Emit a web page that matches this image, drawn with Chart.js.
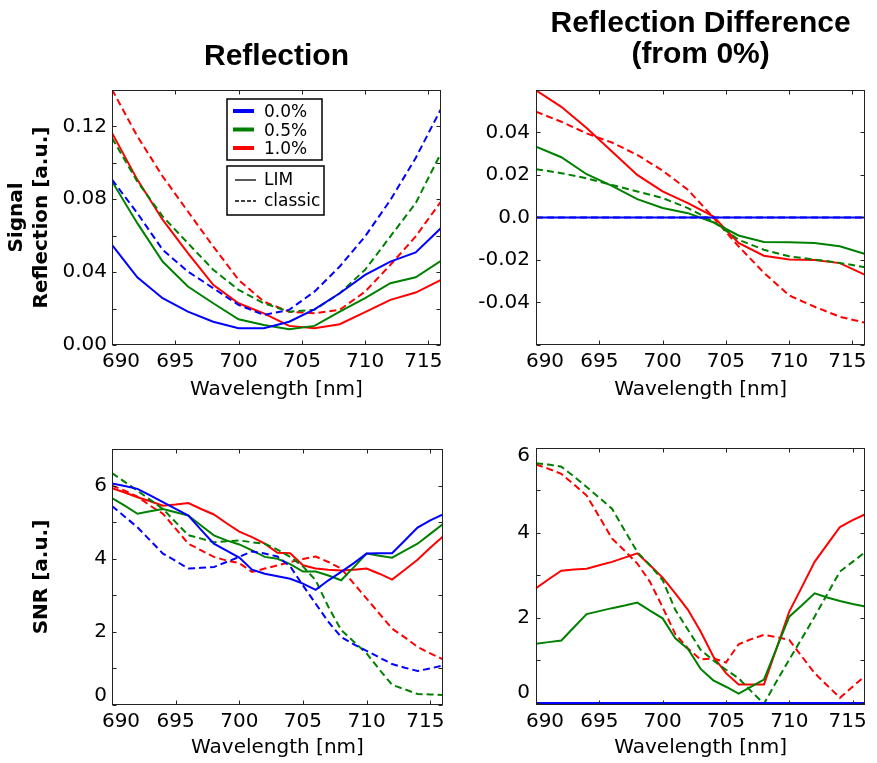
<!DOCTYPE html>
<html>
<head>
<meta charset="utf-8">
<script src="https://cdn.jsdelivr.net/npm/chart.js@4.4.1/dist/chart.umd.min.js"></script>
<style>
  body { margin: 0; background: #fff; width: 877px; height: 763px; position: relative; overflow: hidden; }
  canvas { position: absolute; }
</style>
</head>
<body>
<canvas id="reflection" width="460" height="410" style="left:0;top:0"></canvas>
<canvas id="reflectionDiff" width="417" height="410" style="left:460px;top:0"></canvas>
<canvas id="snr" width="460" height="353" style="left:0;top:410px"></canvas>
<canvas id="snrDiff" width="417" height="353" style="left:460px;top:410px"></canvas>
<script>
// wavelength grids [nm]
var wavelengthsCoarse = [690, 692, 694, 696, 698, 700, 702, 704, 706, 708, 710, 712, 714, 716];
var wavelengths = [690, 691, 692, 693, 694, 695, 696, 697, 698, 699, 700, 701, 702, 703,
    704, 705, 706, 707, 708, 709, 710, 711, 712, 713, 714, 715, 716];
var xTickValues = [690, 695, 700, 705, 710, 715];

var concentrationLabels = ["0.0%", "0.5%", "1.0%"];
var methodLabels = ["LIM", "classic"];
var seriesColors = ["#0000ff", "#008000", "#ff0000"];

// signal reflection [a.u.]
var reflLim0 = [0.0550, 0.0372, 0.0257, 0.0183, 0.0128, 0.0092, 0.0092, 0.0128, 0.0196, 0.0284, 0.0385, 0.0458, 0.0508, 0.0642];
var reflLim05 = [0.0898, 0.0669, 0.0458, 0.0321, 0.0229, 0.0141, 0.0110, 0.0086, 0.0105, 0.0183, 0.0257, 0.0339, 0.0372, 0.0462];
var reflLim10 = [0.1164, 0.0908, 0.0688, 0.0504, 0.0330, 0.0229, 0.0174, 0.0105, 0.0092, 0.0114, 0.0180, 0.0248, 0.0288, 0.0358];
var reflClassic0 = [0.0908, 0.0724, 0.0523, 0.0403, 0.0312, 0.0220, 0.0165, 0.0193, 0.0293, 0.0431, 0.0596, 0.0796, 0.1027, 0.1296];
var reflClassic05 = [0.1137, 0.0898, 0.0706, 0.0559, 0.0413, 0.0303, 0.0229, 0.0183, 0.0193, 0.0284, 0.0413, 0.0596, 0.0779, 0.1054];
var reflClassic10 = [0.1403, 0.1146, 0.0926, 0.0733, 0.0541, 0.0358, 0.0238, 0.0183, 0.0174, 0.0193, 0.0293, 0.0440, 0.0596, 0.0788];
var reflTicks = [0, 0.02, 0.04, 0.06, 0.08, 0.10, 0.12, 0.14];
var reflTickLabels = ["0.00", "", "0.04", "", "0.08", "", "0.12", ""];

// reflection difference (from 0%)
var diffLim0 = [0, 0, 0, 0, 0, 0, 0, 0, 0, 0, 0, 0, 0, 0];
var diffLim05 = [0.0333, 0.0283, 0.0203, 0.0148, 0.0086, 0.0044, 0.0020, -0.0023, -0.0085, -0.0116, -0.0117, -0.0120, -0.0136, -0.0172];
var diffLim10 = [0.0598, 0.0520, 0.0420, 0.0310, 0.0200, 0.0122, 0.0067, 0.0005, -0.0120, -0.0180, -0.0198, -0.0200, -0.0215, -0.0270];
var diffClassic0 = [0, 0, 0, 0, 0, 0, 0, 0, 0, 0, 0, 0, 0, 0];
var diffClassic05 = [0.0227, 0.0208, 0.0184, 0.0153, 0.0122, 0.0091, 0.0044, -0.0019, -0.0105, -0.0152, -0.0183, -0.0198, -0.0214, -0.0234];
var diffClassic10 = [0.0497, 0.0450, 0.0395, 0.0352, 0.0294, 0.0220, 0.0130, 0.0000, -0.0136, -0.0260, -0.0367, -0.0420, -0.0467, -0.0495];
var diffTicks = [-0.06, -0.04, -0.02, 0, 0.02, 0.04, 0.06];
var diffTickLabels = ["", "-0.04", "-0.02", "0.0", "0.02", "0.04", ""];

// SNR [a.u.]
var snrLim0 = [6.06, 5.99, 5.91, 5.73, 5.55, 5.36, 5.18, 4.79, 4.41, 4.22, 4.03, 3.70, 3.59, 3.52,
    3.45, 3.32, 3.15, 3.41, 3.64, 3.88, 4.14, 4.15, 4.15, 4.50, 4.85, 5.05, 5.21];
var snrLim05 = [5.66, 5.45, 5.23, 5.30, 5.36, 5.27, 5.18, 4.91, 4.64, 4.50, 4.39, 4.23, 4.05, 4.00,
    3.85, 3.65, 3.65, 3.54, 3.41, 3.77, 4.14, 4.08, 4.03, 4.22, 4.41, 4.68, 4.95];
var snrLim10 = [5.93, 5.81, 5.68, 5.57, 5.45, 5.48, 5.52, 5.36, 5.21, 4.97, 4.74, 4.59, 4.41, 4.16,
    4.15, 3.82, 3.73, 3.70, 3.68, 3.70, 3.73, 3.59, 3.43, 3.70, 3.97, 4.30, 4.61];
var snrClassic0 = [5.44, 5.15, 4.86, 4.50, 4.14, 3.94, 3.73, 3.75, 3.77, 3.91, 4.05, 4.20, 4.14, 4.06,
    3.79, 3.27, 2.77, 2.27, 1.86, 1.66, 1.48, 1.30, 1.12, 1.02, 0.93, 1.00, 1.08];
var snrClassic05 = [6.34, 6.10, 5.86, 5.61, 5.36, 5.00, 4.64, 4.55, 4.45, 4.48, 4.50, 4.45, 4.41, 4.25,
    4.05, 3.79, 3.41, 2.68, 2.05, 1.73, 1.41, 0.97, 0.55, 0.43, 0.30, 0.29, 0.27];
var snrClassic10 = [6.00, 5.86, 5.70, 5.45, 5.23, 4.82, 4.41, 4.23, 4.05, 3.95, 3.88, 3.64, 3.73, 3.82,
    3.91, 3.99, 4.06, 3.91, 3.73, 3.32, 2.91, 2.50, 2.09, 1.85, 1.59, 1.41, 1.25];
var snrTicks = [0, 1, 2, 3, 4, 5, 6, 7];
var snrTickLabels = ["0", "", "2", "", "4", "", "6", ""];

// SNR difference
var snrDiffLim0 = [0, 0, 0, 0, 0, 0, 0, 0, 0, 0, 0, 0, 0, 0, 0, 0, 0, 0, 0, 0, 0, 0, 0, 0, 0, 0, 0];
var snrDiffLim05 = [1.39, 1.43, 1.47, 1.78, 2.09, 2.16, 2.23, 2.29, 2.36, 2.17, 1.99, 1.52, 1.27, 0.80,
    0.53, 0.38, 0.22, 0.38, 0.55, 1.29, 2.03, 2.30, 2.58, 2.48, 2.40, 2.33, 2.27];
var snrDiffLim10 = [2.70, 2.91, 3.11, 3.14, 3.16, 3.24, 3.32, 3.42, 3.52, 3.24, 2.95, 2.58, 2.19, 1.68,
    1.09, 0.70, 0.43, 0.43, 0.43, 1.29, 2.15, 2.73, 3.32, 3.73, 4.14, 4.30, 4.44];
var snrDiffClassic0 = [0, 0, 0, 0, 0, 0, 0, 0, 0, 0, 0, 0, 0, 0, 0, 0, 0, 0, 0, 0, 0, 0, 0, 0, 0, 0, 0];
var snrDiffClassic05 = [5.64, 5.61, 5.56, 5.33, 5.08, 4.83, 4.57, 4.06, 3.55, 3.24, 2.89, 2.19, 1.72, 1.25,
    1.00, 0.78, 0.58, 0.27, -0.02, 0.51, 1.02, 1.52, 2.03, 2.56, 3.09, 3.32, 3.55];
var snrDiffClassic10 = [5.61, 5.51, 5.39, 5.14, 4.88, 4.38, 3.87, 3.58, 3.28, 2.85, 2.25, 1.62, 1.28, 1.02,
    1.05, 0.95, 1.38, 1.50, 1.60, 1.55, 1.48, 1.09, 0.70, 0.41, 0.12, 0.38, 0.64];
var snrDiffTicks = [0, 1, 2, 3, 4, 5, 6];
var snrDiffTickLabels = ["0", "", "2", "", "4", "", "6"];

Chart.defaults.font.family = '"DejaVu Sans"';
Chart.defaults.font.size = 20;
Chart.defaults.color = "#000";

function series(xs, ys, color, dashed) {
    return {
        data: xs.map(function (x, i) { return { x: x, y: ys[i] }; }),
        borderColor: color,
        borderWidth: 2,
        borderDash: dashed ? [7, 4] : [],
        pointRadius: 0,
        fill: false,
        clip: 0
    };
}

function sixSeries(xs, lim, classic) {
    var sets = [];
    for (var i = 0; i < 3; i++) {
        sets.push(series(xs, lim[i], seriesColors[i], false));
        sets.push(series(xs, classic[i], seriesColors[i], true));
    }
    return sets;
}

// box around the plot with inward ticks on all four sides
var frameTicks = {
    id: "frameTicks",
    afterDatasetsDraw: function (chart) {
        var ctx = chart.ctx, a = chart.chartArea;
        var xs = chart.scales.x, ys = chart.scales.y;
        var l = Math.round(a.left) + 0.5, r = Math.round(a.right) - 0.5;
        var t = Math.round(a.top) + 0.5, b = Math.round(a.bottom) - 0.5;
        ctx.save();
        ctx.strokeStyle = "#222";
        ctx.lineWidth = 1;
        ctx.beginPath();
        xs.ticks.forEach(function (tk) {
            var px = Math.round(xs.getPixelForValue(tk.value)) + 0.5;
            ctx.moveTo(px, b); ctx.lineTo(px, b - 4);
            ctx.moveTo(px, t); ctx.lineTo(px, t + 4);
        });
        ys.ticks.forEach(function (tk) {
            var py = Math.round(ys.getPixelForValue(tk.value)) + 0.5;
            ctx.moveTo(l, py); ctx.lineTo(l + 4, py);
            ctx.moveTo(r, py); ctx.lineTo(r - 4, py);
        });
        ctx.stroke();
        ctx.strokeRect(l, t, r - l, b - t);
        ctx.restore();
    }
};

// edge tick labels sit a little inside the axes in the original
var labelNudge = {
    id: "labelNudge",
    beforeDraw: function (chart, args, opts) {
        ["x", "y"].forEach(function (id) {
            var shifts = opts[id] || {};
            chart.scales[id].getLabelItems().forEach(function (item) {
                var d = shifts[item.label];
                if (!d || item.nudged) return;
                item.options.translation[id === "x" ? 0 : 1] += d;
                item.nudged = true;
            });
        });
    }
};

// the two framed legends of the reflection panel
var legendBoxes = {
    id: "legendBoxes",
    afterDraw: function (chart) {
        var ctx = chart.ctx, a = chart.chartArea;
        var left = a.left + 115, top = a.top + 9;
        ctx.save();
        ctx.font = '17px "DejaVu Sans"';
        ctx.textBaseline = "middle";
        ctx.textAlign = "left";

        ctx.fillStyle = "#fff";
        ctx.fillRect(left, top, 95, 61);
        ctx.strokeStyle = "#000";
        ctx.lineWidth = 1.5;
        ctx.strokeRect(left, top, 95, 61);
        concentrationLabels.forEach(function (label, i) {
            var y = top + 12 + i * 18.5;
            ctx.strokeStyle = seriesColors[i];
            ctx.lineWidth = 4;
            ctx.beginPath();
            ctx.moveTo(left + 6, y); ctx.lineTo(left + 27, y);
            ctx.stroke();
            ctx.fillStyle = "#000";
            ctx.fillText(label, left + 37, y + 2);
        });

        var top2 = top + 67;
        ctx.fillStyle = "#fff";
        ctx.fillRect(left, top2, 97, 49);
        ctx.strokeStyle = "#000";
        ctx.lineWidth = 1.5;
        ctx.strokeRect(left, top2, 97, 49);
        methodLabels.forEach(function (label, i) {
            var y = top2 + 14 + i * 21;
            ctx.strokeStyle = "#000";
            ctx.lineWidth = 1.3;
            ctx.setLineDash(i === 0 ? [] : [4, 2]);
            ctx.beginPath();
            ctx.moveTo(left + 8, y); ctx.lineTo(left + 29, y);
            ctx.stroke();
            ctx.setLineDash([]);
            ctx.fillStyle = "#000";
            ctx.fillText(label, left + 37, y + 1);
        });
        ctx.restore();
    }
};

function makePanel(id, p) {
    var ctx = document.getElementById(id).getContext("2d");
    return new Chart(ctx, {
        type: "line",
        data: { datasets: p.datasets },
        options: {
            responsive: false,
            animation: false,
            devicePixelRatio: 1,
            layout: { padding: p.padding },
            plugins: {
                legend: { display: false },
                tooltip: { enabled: false },
                title: p.title || { display: false },
                labelNudge: { x: { "690": 9, "715": -5 }, y: p.yNudge || {} }
            },
            scales: {
                x: {
                    type: "linear",
                    min: 690,
                    max: 716,
                    grid: { display: false, drawTicks: false },
                    border: { display: false },
                    afterBuildTicks: function (scale) {
                        scale.ticks = xTickValues.map(function (v) { return { value: v }; });
                    },
                    afterFit: function (scale) { scale.height = p.xHeight; },
                    ticks: {
                        padding: 5,
                        autoSkip: false,
                        maxRotation: 0,
                        callback: function (v) { return String(v); }
                    },
                    title: {
                        display: true,
                        text: "Wavelength [nm]",
                        padding: { top: 0, bottom: p.xTitlePad }
                    }
                },
                y: {
                    type: "linear",
                    min: p.yMin,
                    max: p.yMax,
                    grid: { display: false, drawTicks: false },
                    border: { display: false },
                    afterBuildTicks: function (scale) {
                        scale.ticks = p.yTicks.map(function (v) { return { value: v }; });
                    },
                    afterFit: function (scale) { scale.width = p.yWidth; },
                    ticks: {
                        padding: p.yTickPad,
                        autoSkip: false,
                        callback: function (v, i) { return p.yLabels[i]; }
                    },
                    title: p.yTitle || { display: false }
                }
            }
        },
        plugins: [frameTicks, labelNudge].concat(p.plugins || [])
    });
}

window.onload = function () {
    makePanel("reflection", {
        datasets: sixSeries(wavelengthsCoarse,
            [reflLim0, reflLim05, reflLim10], [reflClassic0, reflClassic05, reflClassic10]),
        padding: { left: 0, right: 19, top: 0, bottom: 0 },
        title: {
            display: true, text: "Reflection", fullSize: false, color: "#000",
            font: { family: '"Liberation Sans"', size: 30, weight: "bold", lineHeight: 1 },
            padding: { top: 42, bottom: 18 }
        },
        xHeight: 65, xTitlePad: 8,
        yMin: 0, yMax: 0.14, yTicks: reflTicks, yLabels: reflTickLabels,
        yWidth: 112, yTickPad: 5,
        yTitle: {
            display: true, text: ["Signal", "Reflection [a.u.]"],
            font: { size: 20, weight: "bold", lineHeight: 1.25 },
            padding: { top: 4.5, bottom: 0 }
        },
        plugins: [legendBoxes]
    });

    makePanel("reflectionDiff", {
        datasets: sixSeries(wavelengthsCoarse,
            [diffLim0, diffLim05, diffLim10], [diffClassic0, diffClassic05, diffClassic10]),
        padding: { left: 0, right: 8, top: 0, bottom: 0 },
        title: {
            display: true, text: ["Reflection Difference", "(from 0%)"], fullSize: false, color: "#000",
            font: { family: '"Liberation Sans"', size: 30, weight: "bold", lineHeight: 1.03 },
            padding: { top: 8, bottom: 20 }
        },
        xHeight: 65, xTitlePad: 8,
        yMin: -0.06, yMax: 0.06, yTicks: diffTicks, yLabels: diffTickLabels,
        yWidth: 76, yTickPad: 6
    });

    makePanel("snr", {
        datasets: sixSeries(wavelengths,
            [snrLim0, snrLim05, snrLim10], [snrClassic0, snrClassic05, snrClassic10]),
        padding: { left: 0, right: 17, top: 39, bottom: 0 },
        xHeight: 58, xTitlePad: 3,
        yMin: 0, yMax: 7, yTicks: snrTicks, yLabels: snrTickLabels,
        yNudge: { "0": -9 },
        yWidth: 112, yTickPad: 5,
        yTitle: {
            display: true, text: "SNR [a.u.]",
            font: { size: 20, weight: "bold", lineHeight: 1.25 },
            padding: { top: 29.5, bottom: 0 }
        }
    });

    makePanel("snrDiff", {
        datasets: sixSeries(wavelengths,
            [snrDiffLim0, snrDiffLim05, snrDiffLim10], [snrDiffClassic0, snrDiffClassic05, snrDiffClassic10]),
        padding: { left: 0, right: 8, top: 38, bottom: 0 },
        xHeight: 58, xTitlePad: 3,
        yMin: -0.05, yMax: 6, yTicks: snrDiffTicks, yLabels: snrDiffTickLabels,
        yNudge: { "0": -10, "6": 8 },
        yWidth: 76, yTickPad: 6
    });
};
</script>
</body>
</html>
